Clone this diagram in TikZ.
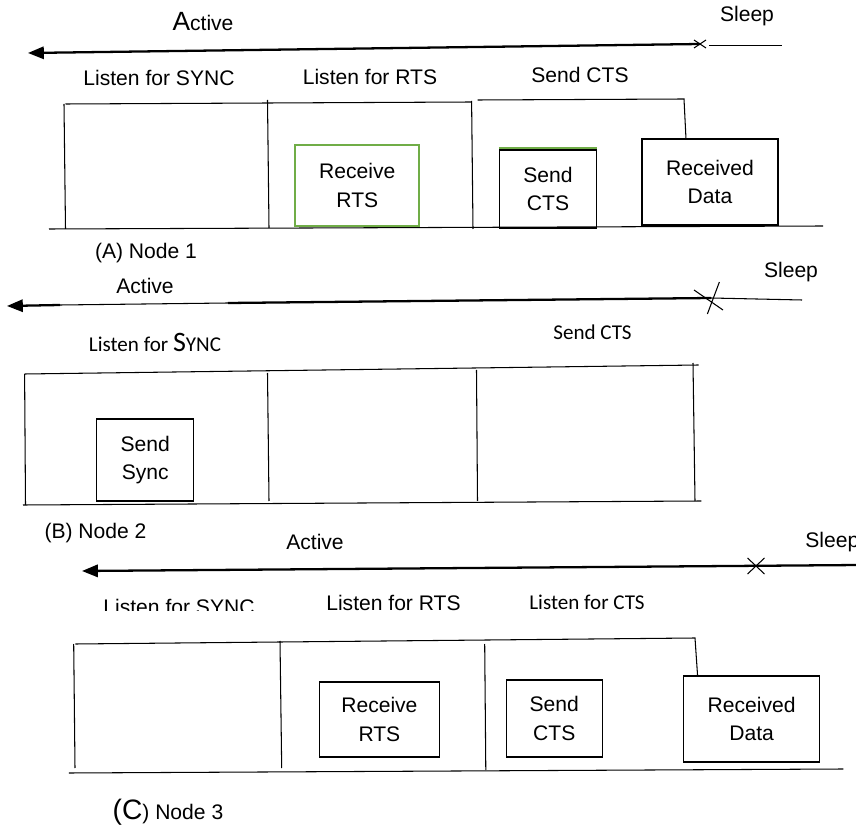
\documentclass[tikz,border=0pt]{standalone}
\usepackage{fontspec}
\setmainfont{Liberation Sans}
\newfontfamily\calib{Carlito}
\usetikzlibrary{arrows.meta, calc}
\usepackage{xcolor}
\definecolor{mgreen}{RGB}{112,173,71}

\begin{document}
\begin{tikzpicture}[x=0.02cm, y=-0.02cm,
  txt/.style={inner sep=0pt, font=\fontsize{12}{16}\selectfont},
  ctxt/.style={inner sep=0pt, font=\calib\fontsize{12}{16}\selectfont},
  slot/.style={draw, line width=0.6pt, align=center, font=\fontsize{12}{16}\selectfont},
  greenslot/.style={slot, draw=mgreen, line width=1.2pt},
  act/.style={-{Triangle[length=9pt,width=7pt]}, line width=1.3pt},
  frame/.style={line width=0.6pt}
]
\useasboundingbox (0,0) rectangle (856,827);

% (A) Node 1
\node[txt] (actA) at (203,22) {{\fontsize{15}{16}\selectfont A}ctive};
\node[txt] (slpA) at (747,16) {Sleep};
\coordinate (xA) at (700,44);
\coordinate (tipA) at (28,53);
\coordinate (endA) at (782,45.5);
\draw[act] (xA) -- (tipA);
\draw[frame] (709,45.5) -- (endA);
\draw[frame] (xA) ++(-6,-4) -- ++(12,8) (xA) ++(-6,4) -- ++(12,-8);
\node[txt] (lsA) at (159,78) {Listen for SYNC};
\node[txt] (lrA) at (370,77) {Listen for RTS};
\node[txt] (scA) at (580,75) {Send CTS};
\draw[frame] (65.5,104) -- (471.6,102);
\draw[frame] (477.6,100) -- (684,99) -- (686,139);
\draw[frame] (64,104) -- (65.5,229);
\draw[frame] (267.5,100) -- (269,228);
\draw[frame] (471.6,101) -- (473,229);
\draw[frame] (49,229) -- (823,226);
\node[greenslot, minimum width=2.48cm, minimum height=1.62cm] (rtsA) at (357.3,185.5) {Receive\\RTS};
\node[slot, minimum width=1.94cm, minimum height=1.56cm] (ctsA) at (548,189) {Send\\CTS};
\draw[mgreen, line width=1pt] ([yshift=0.8pt]ctsA.north west) -- ([yshift=0.8pt]ctsA.north east);
\node[slot, minimum width=2.72cm, minimum height=1.72cm] (dataA) at (710,182) {Received\\Data};
\node[txt] (capA) at (146,253) {(A) Node 1};

% (B) Node 2
\node[txt] (actB) at (145,286) {Active};
\node[txt] (slpB) at (791,272) {Sleep};
\coordinate (xB) at (711,298);
\coordinate (gapB1) at (228,303);
\coordinate (gapB2) at (60,305);
\coordinate (tipB) at (7,306);
\coordinate (endB) at (802,300);
\draw[line width=1.3pt] (xB) -- (gapB1);
\draw[frame] (gapB1) -- (gapB2);
\draw[act] (gapB2) -- (tipB);
\draw[frame] (xB) -- (endB);
\draw[frame] (694,290) -- (723,310) (707.4,314) -- (719.4,282);
\node[ctxt] (lsB) at (155,342) {Listen for {\fontsize{16}{16}\selectfont S}YNC};
\node[ctxt] (scB) at (592.5,332) {Send CTS};
\draw[frame] (24.6,374) -- (698.7,365);
\draw[frame] (24.6,374) -- (25.5,505);
\draw[frame] (267.5,373) -- (269,501);
\draw[frame] (476.5,370) -- (477.5,501);
\draw[frame] (693,363) -- (695,501);
\draw[frame] (23,505) -- (701.4,501);
\node[slot, minimum width=1.94cm, minimum height=1.64cm] (syncB) at (145.2,460) {Send\\Sync};
\node[txt] (capB) at (95.5,533) {(B) Node 2};

% (C) Node 3
\node[txt] (actC) at (315,542) {Active};
\node[txt, anchor=west] (slpC) at (805,542) {Sleep};
\coordinate (endC) at (860,565);
\coordinate (xC) at (756,566);
\coordinate (tipC) at (82,571);
\draw[act] (endC) -- (tipC);
\draw[frame] (xC) ++(-8.5,-8) -- ++(17,16) (xC) ++(-8.5,8) -- ++(17,-16);
\begin{scope}
  \clip (90,585) rectangle (275,611);
  \node[txt] (lsC) at (179,607) {Listen for SYNC};
\end{scope}
\node[txt] (lrC) at (393.5,603) {Listen for RTS};
\node[ctxt] (lcC) at (587,602) {Listen for CTS};
\draw[frame] (75.3,644) -- (280,642) -- (695,638) -- (697.6,676);
\draw[frame] (73.7,644) -- (75,768);
\draw[frame] (280,641) -- (281.7,768);
\draw[frame] (484.7,644) -- (485.8,770);
\draw[frame] (68.8,773) -- (843.3,769);
\node[slot, minimum width=2.4cm, minimum height=1.5cm] (rtsC) at (379.4,719.5) {Receive\\RTS};
\node[slot, minimum width=1.93cm, minimum height=1.54cm] (ctsC) at (554.3,718.5) {Send\\CTS};
\node[slot, minimum width=2.73cm, minimum height=1.72cm] (dataC) at (751.6,719) {Received\\Data};
\node[txt] (capC) at (168,812) {{\fontsize{16}{16}\selectfont(C}) Node 3};
\end{tikzpicture}
\end{document}
